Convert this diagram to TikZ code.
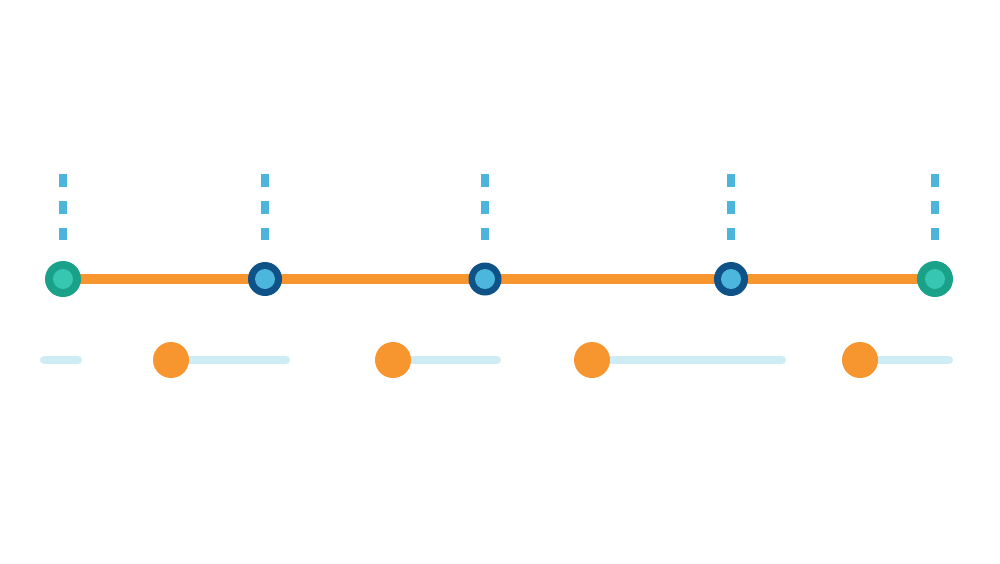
\documentclass[tikz,border=0pt]{standalone}
\usetikzlibrary{positioning}

\definecolor{track}{HTML}{F7952E}
\definecolor{tickblue}{HTML}{4DB5DC}
\definecolor{navy}{HTML}{0E5287}
\definecolor{skyin}{HTML}{4CB6DD}
\definecolor{tealout}{HTML}{1AA18A}
\definecolor{tealin}{HTML}{36C6B1}
\definecolor{pale}{HTML}{CFECF4}

\begin{document}
\begin{tikzpicture} [x=0.01cm,y=-0.01cm,
  tick/.style={tickblue,line width=2pt,dash pattern=on 3.7pt off 4pt},
  bar/.style={pale,line width=2.3pt,line cap=round},
  mainline/.style={track,line width=2.6pt}]

\useasboundingbox (0,0) rectangle (1000,563);

% points on the line
\coordinate (p1) at (63,279);
\coordinate (p2) at (265,279);
\coordinate (p3) at (485,279);
\coordinate (p4) at (731,279);
\coordinate (p5) at (935,279);

% top ends of the ticks
\coordinate (t1) at (63,174);
\coordinate (t2) at (265,174);
\coordinate (t3) at (485,174);
\coordinate (t4) at (731,174);
\coordinate (t5) at (935,174);
\coordinate (b1) at (63,240);
\coordinate (b2) at (265,240);
\coordinate (b3) at (485,240);
\coordinate (b4) at (731,240);
\coordinate (b5) at (935,240);

% lower row
\coordinate (s0) at (44,360);
\coordinate (e0) at (78,360);
\coordinate (s1) at (171,360);
\coordinate (e1) at (286,360);
\coordinate (s2) at (393,360);
\coordinate (e2) at (497,360);
\coordinate (s3) at (592,360);
\coordinate (e3) at (782,360);
\coordinate (s4) at (860,360);
\coordinate (e4) at (949,360);

\draw[tick](t1)--(b1);
\draw[tick](t2)--(b2);
\draw[tick](t3)--(b3);
\draw[tick](t4)--(b4);
\draw[tick](t5)--(b5);

\draw[mainline](p1)--(p2)--(p3)--(p4)--(p5);

\draw[fill=tealout,draw=none](p1) circle[radius=18];
\draw[fill=tealin,draw=none](p1) circle[radius=10];
\draw[fill=navy,draw=none](p2) circle[radius=17];
\draw[fill=skyin,draw=none](p2) circle[radius=10];
\draw[fill=navy,draw=none](p3) circle[radius=16.5];
\draw[fill=skyin,draw=none](p3) circle[radius=10];
\draw[fill=navy,draw=none](p4) circle[radius=17];
\draw[fill=skyin,draw=none](p4) circle[radius=10];
\draw[fill=tealout,draw=none](p5) circle[radius=18];
\draw[fill=tealin,draw=none](p5) circle[radius=10];

\draw[bar](s0)--(e0);
\draw[bar](s1)--(e1);
\draw[bar](s2)--(e2);
\draw[bar](s3)--(e3);
\draw[bar](s4)--(e4);

\draw[fill=track,draw=none](s1) circle[radius=18];
\draw[fill=track,draw=none](s2) circle[radius=18];
\draw[fill=track,draw=none](s3) circle[radius=18];
\draw[fill=track,draw=none](s4) circle[radius=18];
\end{tikzpicture}
\end{document}
